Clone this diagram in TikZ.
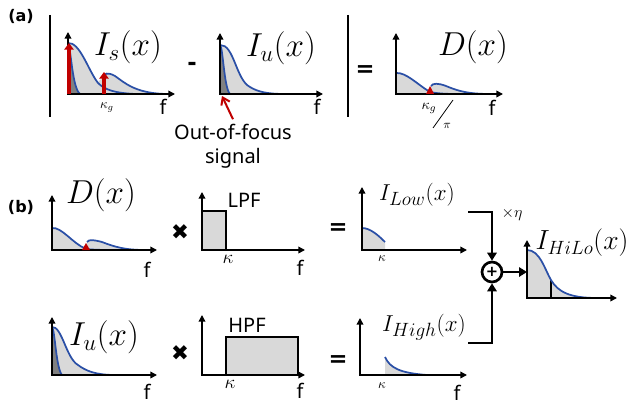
\documentclass[tikz,border=0pt]{standalone}
\usepackage{fontspec}
\setsansfont{Noto Sans}
\newfontfamily\dingfont{DejaVu Sans}
\usepackage{tikz}
\usetikzlibrary{arrows.meta, positioning, calc}
\definecolor{hilored}{HTML}{C00000}
\definecolor{hiloblue}{HTML}{2A4FA6}
\definecolor{hilogray}{HTML}{D9D9D9}
\definecolor{hilodark}{HTML}{808080}

\tikzset{
  axes/.style={line width=1.1pt, {Triangle[length=5pt,width=5pt]}-{Triangle[length=5pt,width=5pt]}},
  spectrum/.style={hiloblue, line width=1.3pt},
  bracket/.style={line width=2.2pt},
  redarrow/.style={hilored, line width=3pt, -{Triangle[length=5pt,width=7pt]}},
  flow/.style={line width=2.2pt, -{Triangle[length=6pt,width=7pt]}},
  flabel/.style={font=\sffamily\fontsize{15}{17}\selectfont},
  panellabel/.style={font=\dingfont\bfseries\fontsize{12}{14}\selectfont},
  biglabel/.style={font=\fontsize{23}{26}\selectfont},
  hugelabel/.style={font=\fontsize{25}{28}\selectfont},
  outlabel/.style={font=\fontsize{19}{22}\selectfont},
  filterlabel/.style={font=\sffamily\fontsize{15}{17}\selectfont},
  oplabel/.style={font=\dingfont\bfseries\fontsize{17}{19}\selectfont},
  kappalabel/.style={font=\fontsize{14}{16}\selectfont},
  timeslabel/.style={font=\dingfont\fontsize{16}{18}\selectfont},
  sumnode/.style={circle, draw, line width=2pt, minimum size=15pt, inner sep=0pt, font=\dingfont\bfseries\fontsize{11}{11}\selectfont}
}

\begin{document}
\begin{tikzpicture}[x=0.75pt, y=-0.75pt]
    \useasboundingbox (0,0) rectangle (631,406);

    \node[panellabel] (lblA) at (21,16) {(a)};
    \node[panellabel] (lblB) at (21,207) {(b)};

    % (a) brackets
    \draw[bracket] (50,15) -- (50,117);
    \draw[bracket] (348,15) -- (348,117);

    % (a) I_s spectrum
    \fill[hilogray] (68,94) -- (68,43) .. controls (80,42) and (88,70) .. (98,82) -- (102,78)
        .. controls (104,73) and (108,72) .. (115,76) .. controls (125,83) and (135,93) .. (165,94) -- cycle;
    \fill[hilodark] (68,94) -- (68,45) .. controls (71,46) and (72,88) .. (80,94) -- cycle;
    \draw[spectrum] (68,43) .. controls (80,42) and (88,70) .. (98,83) .. controls (105,90) and (115,93) .. (135,94);
    \draw[spectrum] (102,78) .. controls (104,73) and (108,72) .. (115,76) .. controls (125,83) and (135,93) .. (165,94);
    \draw[spectrum] (68,45) .. controls (71,46) and (72,88) .. (80,94);
    \draw[axes] (68,32) |- (175,94);
    \draw[redarrow] (69,94) -- (69,43);
    \draw[redarrow] (104,94) -- (104,72);
    \node[font=\fontsize{10}{11}\selectfont] (kgS) at (107,108) {$\kappa_g$};
    \node[biglabel] (lblIs) at (128,47) {$I_s(x)$};

    \node[oplabel] (minusA) at (192,66) {-};

    % (a) I_u spectrum
    \fill[hilogray] (220,94) -- (220,45) .. controls (234,44) and (236,80) .. (250,87) .. controls (258,92) and (268,94) .. (285,94) -- cycle;
    \fill[hilodark] (220,94) -- (220,45) .. controls (223,47) and (224,88) .. (230,94) -- cycle;
    \draw[spectrum] (220,45) .. controls (234,44) and (236,80) .. (250,87) .. controls (258,92) and (268,94) .. (285,94);
    \draw[spectrum] (220,45) .. controls (223,47) and (224,88) .. (230,94);
    \draw[axes] (220,33) |- (323,94);
    \node[biglabel] (lblIu) at (281,48) {$I_u(x)$};
    \node[font=\sffamily\fontsize{15}{18}\selectfont, align=center] (oof) at (233,146) {Out-of-focus\\signal};
    \coordinate (oofTip) at (222,96);
    \draw[hilored, line width=1.5pt, -{Straight Barb[length=5pt,width=7pt]}] (oof.north) -- (oofTip);

    \node[oplabel] (eqA) at (365,71) {=};

    % (a) D spectrum
    \fill[hilogray] (396,94) -- (396,73) .. controls (406,72) and (418,85) .. (430,91) -- (431,86)
        .. controls (433,83) and (438,83) .. (446,86) .. controls (458,91) and (468,94) .. (490,94) -- cycle;
    \draw[spectrum] (396,73) .. controls (406,72) and (418,85) .. (430,92) .. controls (440,94) and (450,94) .. (460,94);
    \draw[spectrum] (431,86) .. controls (433,83) and (438,83) .. (446,86) .. controls (458,91) and (468,94) .. (490,94);
    \draw[axes] (396,33) |- (503,94);
    \fill[hilored] (426,94) -- (430,86) -- (434,94) -- cycle;
    \node[font=\fontsize{11}{12}\selectfont] (kgD) at (429,108) {$\kappa_g$};
    \draw[line width=0.6pt] (453,100) -- (433,128);
    \node[font=\fontsize{9}{10}\selectfont] (piD) at (447,126) {$\pi$};
    \node[hugelabel] (lblD) at (473,47) {$D(x)$};

    % (b) D spectrum
    \fill[hilogray] (52,250) -- (52,228) .. controls (62,227) and (72,243) .. (86,248) -- (87,242)
        .. controls (89,239) and (94,240) .. (102,242) .. controls (115,247) and (125,250) .. (145,250) -- cycle;
    \draw[spectrum] (52,228) .. controls (62,227) and (72,243) .. (86,249) .. controls (95,250) and (105,250) .. (115,250);
    \draw[spectrum] (87,242) .. controls (89,239) and (94,240) .. (102,242) .. controls (115,247) and (125,250) .. (145,250);
    \draw[axes] (52,195) |- (157,250);
    \fill[hilored] (82,250) -- (86,243) -- (90,250) -- cycle;
    \node[hugelabel] (lblDb) at (101,195) {$D(x)$};

    % (b) I_u spectrum
    \fill[hilogray] (52,375) -- (52,327) .. controls (62,326) and (66,358) .. (78,365) .. controls (86,371) and (96,375) .. (115,375) -- cycle;
    \fill[hilodark] (52,375) -- (52,327) .. controls (55,330) and (56,368) .. (62,375) -- cycle;
    \draw[spectrum] (52,327) .. controls (62,326) and (66,358) .. (78,365) .. controls (86,371) and (96,375) .. (115,375);
    \draw[spectrum] (52,327) .. controls (55,330) and (56,368) .. (62,375);
    \draw[axes] (52,317) |- (157,375);
    \node[hugelabel] (lblIub) at (104,337) {$I_u(x)$};

    \node[timeslabel] (timesLow) at (180,232) {✖};
    \node[timeslabel] (timesHigh) at (180,353) {✖};

    % filters
    \filldraw[fill=hilogray, line width=1.1pt] (202,250) rectangle (226,211);
    \draw[axes] (202,192) |- (305,250);
    \node[filterlabel] (lpf) at (244,200) {LPF};
    \node[kappalabel] (kLpf) at (228,259) {$\kappa$};

    \filldraw[fill=hilogray, line width=1.1pt] (226,375) rectangle (298,337);
    \draw[axes] (202,315) |- (305,375);
    \node[filterlabel] (hpf) at (247,325) {HPF};
    \node[kappalabel] (kHpf) at (230,384) {$\kappa$};

    \node[oplabel] (eqLow) at (338,229) {=};
    \node[oplabel] (eqHigh) at (338,361) {=};

    % I_Low and I_High
    \fill[hilogray] (362,250) -- (362,228) .. controls (370,228) and (378,235) .. (385,242) -- (385,250) -- cycle;
    \draw[spectrum] (362,228) .. controls (370,228) and (378,235) .. (385,242);
    \draw[axes] (362,187) |- (467,250);
    \node[font=\fontsize{10}{11}\selectfont] (kLow) at (382,259) {$\kappa$};
    \node[outlabel] (lblLow) at (417,195) {$I_{Low}(x)$};

    \fill[hilogray] (385,375) -- (385,357) .. controls (390,368) and (400,373) .. (427,375) -- cycle;
    \draw[spectrum] (385,357) .. controls (390,368) and (400,373) .. (427,375);
    \draw[axes] (360,318) |- (467,375);
    \node[font=\fontsize{10}{11}\selectfont] (kHigh) at (382,386) {$\kappa$};
    \node[outlabel] (lblHigh) at (424,327) {$I_{High}(x)$};

    % sum
    \node[sumnode] (sum) at (492,272) {+};
    \coordinate (lowOut) at (468,212);
    \coordinate (highOut) at (468,343);
    \coordinate (hiloIn) at (527,272);
    \draw[flow] (lowOut) -| (sum.north);
    \draw[flow] (highOut) -| (sum.south);
    \draw[flow] (sum.east) -- (hiloIn);
    \node[font=\fontsize{13}{15}\selectfont] (eta) at (512,214) {$\times\eta$};

    % I_HiLo
    \fill[hilogray] (527,298) -- (527,250) .. controls (540,250) and (545,270) .. (551,280) .. controls (558,292) and (570,298) .. (597,298) -- cycle;
    \draw[line width=1pt] (551,298) -- (551,280);
    \draw[spectrum] (527,250) .. controls (540,250) and (545,270) .. (551,280) .. controls (558,292) and (570,298) .. (597,298);
    \draw[axes] (527,240) |- (617,298);
    \node[font=\fontsize{21}{24}\selectfont] (lblHiLo) at (582,243) {$I_{HiLo}(x)$};

    % f labels
    \foreach \fx/\fy [count=\i] in {163/107, 317/107, 492/108, 147/270, 300/268, 147/392, 300/391, 457/393}
        \node[flabel] (f\i) at (\fx,\fy) {f};
\end{tikzpicture}
\end{document}
